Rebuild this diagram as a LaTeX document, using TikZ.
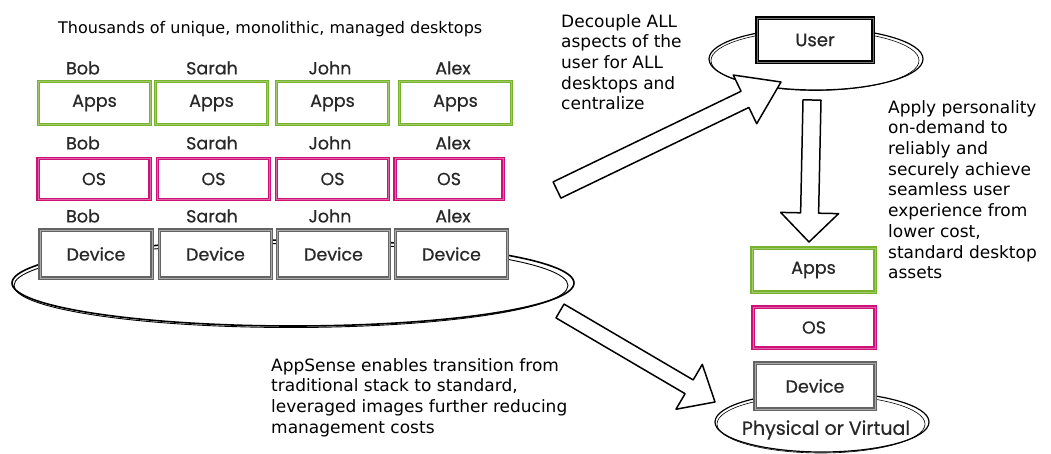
\documentclass[tikz,border=0pt]{standalone}
\usepackage{fontspec}
\setmainfont{DejaVu Sans}
\newfontfamily\handfont{Poppins}[FakeBold=0.6]
\usetikzlibrary{calc}
\definecolor{appgreen}{RGB}{118,178,44}
\definecolor{osmagenta}{RGB}{205,17,120}
\definecolor{devgrey}{RGB}{100,100,100}
\definecolor{handink}{RGB}{40,40,40}

% hollow block arrow from a tail coordinate to a tip coordinate
% #1 tail, #2 tip, #3 shaft half-width, #4 head half-width, #5 head length
\newcommand\blockarrow[5]{%
  \coordinate (#2-base) at ($(#2)!#5!(#1)$);
  \draw[blockarrow]
    ($(#1)!#3!90:(#2)$) -- ($(#2-base)!#3!-90:(#1)$) -- ($(#2-base)!#4!-90:(#1)$)
    -- (#2) -- ($(#2-base)!#4!90:(#1)$) -- ($(#2-base)!#3!90:(#1)$)
    -- ($(#1)!#3!-90:(#2)$) -- cycle;}

\begin{document}
\begin{tikzpicture}[x=1pt,y=-1pt,
  handtext/.style={font=\handfont\fontsize{17.5}{17.5}\selectfont, text=handink},
  layerbox/.style={handtext, draw, fill=white, line width=1.5pt, double distance=0.8pt,
    minimum width=112pt, inner sep=0pt},
  appsbox/.style={layerbox, draw=appgreen, double=appgreen!70!white, minimum height=43pt},
  osbox/.style={layerbox, draw=osmagenta, double=osmagenta!65!white, minimum height=41pt},
  devbox/.style={layerbox, draw=devgrey, double=devgrey!55!white, minimum height=48pt},
  ownername/.style={handtext, inner sep=0pt},
  note/.style={font=\fontsize{17}{20.7}\selectfont, align=left, anchor=north west, inner sep=0pt},
  sketch/.style={draw=black, line width=1.2pt},
  blockarrow/.style={draw=black, fill=white, line width=1.5pt, line join=round}
]
\useasboundingbox (0,0) rectangle (1051,454);

% ---------- traditional stack: four desktops on one base ----------
\draw[sketch, line width=1.6pt] (293,283) ellipse [x radius=281, y radius=43];
\draw[sketch, line width=0.9pt] (291,285.5) ellipse [x radius=277, y radius=42];

\node[font=\fontsize{16}{16}\selectfont, anchor=base west, inner sep=0pt] (title) at (58,34)
  {Thousands of unique, monolithic, managed desktops};

% owner names
\foreach \row/\y in {1/68, 2/143, 3/216} {
  \node[ownername] (bob\row)   at (83,\y)  {Bob};
  \node[ownername] (sarah\row) at (212,\y) {Sarah};
  \node[ownername] (john\row)  at (330,\y) {John};
  \node[ownername] (alex\row)  at (453,\y) {Alex};
}

% layer boxes
\node[appsbox] (apps1) at (94.5,103)  {Apps};
\node[appsbox] (apps2) at (211.5,103) {Apps};
\node[appsbox] (apps3) at (332.5,103) {Apps};
\node[appsbox] (apps4) at (455.5,103) {Apps};

\node[osbox] (os1) at (94,179)    {OS};
\node[osbox] (os2) at (213.5,179) {OS};
\node[osbox] (os3) at (332.5,179) {OS};
\node[osbox, minimum width=108pt] (os4) at (449,179) {OS};

\node[devbox] (dev1) at (96,254)    {Device};
\node[devbox] (dev2) at (215.5,254) {Device};
\node[devbox] (dev3) at (333.5,254) {Device};
\node[devbox] (dev4) at (451.5,254) {Device};

% ---------- user layer ----------
\draw[sketch] (816,59) ellipse [x radius=107, y radius=31];
\draw[sketch, line width=0.6pt] (815,60.5) ellipse [x radius=104, y radius=30];
\node[layerbox, draw=black, double=black!55!white, minimum width=116pt, minimum height=44pt,
  font=\handfont\fontsize{18}{18}\selectfont] (user) at (815,40) {User};

% ---------- standard stack ----------
\draw[sketch] (822,422) ellipse [x radius=107, y radius=30];
\draw[sketch, line width=0.6pt] (821,424) ellipse [x radius=104, y radius=29];
\node[handtext, font=\handfont\fontsize{19}{19}\selectfont, inner sep=0pt] (platform) at (826,430) {Physical or Virtual};

\node[appsbox, minimum width=123pt, minimum height=44pt] (sapps) at (813.5,270) {Apps};
\node[osbox, minimum width=122pt] (sos) at (814,327.5) {OS};
\node[devbox, minimum width=120pt, minimum height=46pt] (sdev) at (815,386) {Device};

% ---------- transitions ----------
\coordinate (decouple-tail) at (557,190);
\coordinate (decouple-tip)  at (781,82);
\coordinate (apply-tail)    at (812,100);
\coordinate (apply-tip)     at (809,242);
\coordinate (move-tail)     at (560,311);
\coordinate (move-tip)      at (715,402);

\blockarrow{decouple-tail}{decouple-tip}{9pt}{27pt}{40pt}
\blockarrow{apply-tail}{apply-tip}{9pt}{29pt}{29pt}
\blockarrow{move-tail}{move-tip}{8pt}{26pt}{30pt}

% ---------- notes ----------
\node[note] (decouple) at (561,14)
  {Decouple ALL\\aspects of the\\user for ALL\\desktops and\\centralize};
\node[note] (apply) at (888,100)
  {Apply personality\\on-demand to\\reliably and\\securely achieve\\seamless user\\experience from\\lower cost,\\standard desktop\\assets};
\node[note] (appsense) at (271,358)
  {AppSense enables transition from\\traditional stack to standard,\\leveraged images further reducing\\management costs};
\end{tikzpicture}
\end{document}
